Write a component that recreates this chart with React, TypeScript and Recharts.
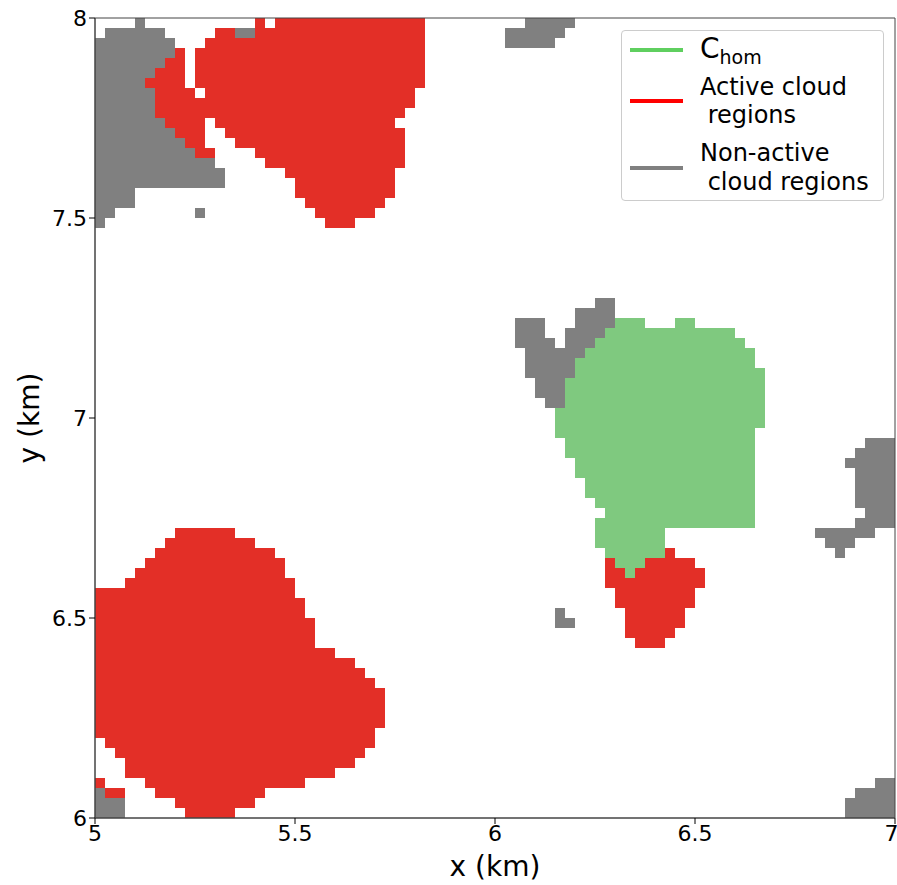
import {
  ComposedChart,
  ReferenceArea,
  XAxis,
  YAxis,
} from "recharts";

const GREEN = "#7fc97f";
const RED = "#e32f27";
const GREY = "#808080";
const FONT = "DejaVu Sans, sans-serif";

// model grid spacing in km (one pixel of the original field)
const GRID = 0.025;

const X_TICKS = [5, 5.5, 6, 6.5, 7];
const Y_TICKS = [6, 6.5, 7, 7.5, 8];

// each run: [top of grid row (km), x from (km), x to (km)]
type Run = [number, number, number];

const NON_ACTIVE: Run[] = [
  // top-left patch
  [8.0, 5.1, 5.125],
  [7.975, 5.025, 5.175],
  [7.975, 5.35, 5.4],
  [7.95, 5.0, 5.2],
  [7.925, 5.0, 5.2],
  [7.9, 5.0, 5.175],
  [7.875, 5.0, 5.15],
  [7.85, 5.0, 5.125],
  [7.825, 5.0, 5.15],
  [7.8, 5.0, 5.15],
  [7.775, 5.0, 5.15],
  [7.75, 5.0, 5.175],
  [7.725, 5.0, 5.2],
  [7.7, 5.0, 5.225],
  [7.675, 5.0, 5.25],
  [7.65, 5.0, 5.3],
  [7.625, 5.0, 5.325],
  [7.6, 5.0, 5.325],
  [7.575, 5.0, 5.1],
  [7.55, 5.0, 5.1],
  [7.525, 5.0, 5.05],
  [7.525, 5.25, 5.275],
  [7.5, 5.0, 5.025],
  // top, near x = 6.1
  [8.0, 6.075, 6.2],
  [7.975, 6.025, 6.175],
  [7.95, 6.025, 6.15],
  // next to the homogenised cloud
  [7.3, 6.25, 6.3],
  [7.275, 6.2, 6.3],
  [7.25, 6.05, 6.125],
  [7.25, 6.2, 6.3],
  [7.225, 6.05, 6.125],
  [7.225, 6.175, 6.275],
  [7.2, 6.05, 6.15],
  [7.2, 6.175, 6.25],
  [7.175, 6.075, 6.225],
  [7.15, 6.075, 6.2],
  [7.125, 6.075, 6.2],
  [7.1, 6.1, 6.175],
  [7.075, 6.1, 6.175],
  [7.05, 6.125, 6.175],
  [6.525, 6.15, 6.175],
  [6.5, 6.15, 6.2],
  // right edge
  [6.95, 6.925, 7.0],
  [6.925, 6.9, 7.0],
  [6.9, 6.875, 7.0],
  [6.875, 6.9, 7.0],
  [6.85, 6.9, 7.0],
  [6.825, 6.9, 7.0],
  [6.8, 6.9, 7.0],
  [6.775, 6.925, 7.0],
  [6.75, 6.9, 7.0],
  [6.725, 6.8, 6.95],
  [6.7, 6.825, 6.9],
  [6.675, 6.85, 6.875],
  // bottom corners
  [6.1, 6.95, 7.0],
  [6.075, 6.9, 7.0],
  [6.05, 6.875, 7.0],
  [6.025, 6.875, 7.0],
  [6.075, 5.0, 5.025],
  [6.05, 5.0, 5.075],
  [6.025, 5.0, 5.075],
];

const ACTIVE: Run[] = [
  // top cloud
  [8.0, 5.4, 5.425],
  [8.0, 5.45, 5.825],
  [7.975, 5.3, 5.35],
  [7.975, 5.4, 5.825],
  [7.95, 5.275, 5.825],
  [7.925, 5.2, 5.225],
  [7.925, 5.25, 5.825],
  [7.9, 5.175, 5.225],
  [7.9, 5.25, 5.825],
  [7.875, 5.15, 5.225],
  [7.875, 5.25, 5.825],
  [7.85, 5.125, 5.225],
  [7.85, 5.25, 5.825],
  [7.825, 5.15, 5.25],
  [7.825, 5.275, 5.8],
  [7.8, 5.15, 5.8],
  [7.775, 5.15, 5.775],
  [7.75, 5.175, 5.275],
  [7.75, 5.3, 5.75],
  [7.725, 5.2, 5.275],
  [7.725, 5.325, 5.775],
  [7.7, 5.225, 5.275],
  [7.7, 5.35, 5.775],
  [7.675, 5.25, 5.3],
  [7.675, 5.4, 5.775],
  [7.65, 5.425, 5.775],
  [7.625, 5.475, 5.75],
  [7.6, 5.5, 5.75],
  [7.575, 5.5, 5.75],
  [7.55, 5.525, 5.725],
  [7.525, 5.55, 5.7],
  [7.5, 5.575, 5.65],
  // below the homogenised cloud
  [6.675, 6.425, 6.45],
  [6.65, 6.275, 6.3],
  [6.65, 6.375, 6.5],
  [6.625, 6.275, 6.325],
  [6.625, 6.35, 6.525],
  [6.6, 6.275, 6.525],
  [6.575, 6.3, 6.5],
  [6.55, 6.3, 6.5],
  [6.525, 6.325, 6.475],
  [6.5, 6.325, 6.475],
  [6.475, 6.325, 6.45],
  [6.45, 6.35, 6.425],
  // bottom-left cloud
  [6.725, 5.2, 5.35],
  [6.7, 5.175, 5.4],
  [6.675, 5.15, 5.45],
  [6.65, 5.125, 5.475],
  [6.625, 5.1, 5.475],
  [6.6, 5.075, 5.5],
  [6.575, 5.0, 5.5],
  [6.55, 5.0, 5.525],
  [6.525, 5.0, 5.525],
  [6.5, 5.0, 5.55],
  [6.475, 5.0, 5.55],
  [6.45, 5.0, 5.55],
  [6.425, 5.0, 5.6],
  [6.4, 5.0, 5.65],
  [6.375, 5.0, 5.675],
  [6.35, 5.0, 5.7],
  [6.325, 5.0, 5.725],
  [6.3, 5.0, 5.725],
  [6.275, 5.0, 5.725],
  [6.25, 5.0, 5.725],
  [6.225, 5.0, 5.7],
  [6.2, 5.025, 5.7],
  [6.175, 5.05, 5.675],
  [6.15, 5.075, 5.65],
  [6.125, 5.075, 5.6],
  [6.1, 5.0, 5.025],
  [6.1, 5.125, 5.525],
  [6.075, 5.025, 5.075],
  [6.075, 5.15, 5.425],
  [6.05, 5.2, 5.4],
  [6.025, 5.225, 5.35],
];

const C_HOM: Run[] = [
  [7.25, 6.3, 6.375],
  [7.25, 6.45, 6.5],
  [7.225, 6.275, 6.6],
  [7.2, 6.25, 6.625],
  [7.175, 6.225, 6.65],
  [7.15, 6.2, 6.65],
  [7.125, 6.2, 6.675],
  [7.1, 6.175, 6.675],
  [7.075, 6.175, 6.675],
  [7.05, 6.175, 6.675],
  [7.025, 6.15, 6.675],
  [7.0, 6.15, 6.675],
  [6.975, 6.15, 6.65],
  [6.95, 6.175, 6.65],
  [6.925, 6.175, 6.65],
  [6.9, 6.2, 6.65],
  [6.875, 6.2, 6.65],
  [6.85, 6.225, 6.65],
  [6.825, 6.225, 6.65],
  [6.8, 6.25, 6.65],
  [6.775, 6.275, 6.65],
  [6.75, 6.25, 6.65],
  [6.725, 6.25, 6.425],
  [6.7, 6.25, 6.425],
  [6.675, 6.275, 6.425],
  [6.65, 6.3, 6.375],
  [6.625, 6.325, 6.35],
];

const LEGEND_COLORS = {
  hom: "#5fcf5f",
  active: "#ff0000",
  nonActive: "#808080",
};

function runs(data: Run[], color: string, prefix: string) {
  return data.map(([top, from, to], i) => (
    <ReferenceArea
      key={`${prefix}${i}`}
      x1={from}
      x2={to}
      y1={top - GRID}
      y2={top}
      fill={color}
      fillOpacity={1}
      stroke="none"
      ifOverflow="hidden"
    />
  ));
}

function XLabel(props: any) {
  const { x, y, width, height } = props.viewBox;
  return (
    <text x={x + width / 2} y={y + height - 9} textAnchor="middle" fontSize={28} fontFamily={FONT} fill="#000">
      x (km)
    </text>
  );
}

function YLabel(props: any) {
  const { x, y, height } = props.viewBox;
  const cx = x + 39;
  const cy = y + height / 2;
  return (
    <text
      x={cx}
      y={cy}
      transform={`rotate(-90, ${cx}, ${cy})`}
      textAnchor="middle"
      fontSize={28}
      fontFamily={FONT}
      fill="#000"
    >
      y (km)
    </text>
  );
}

function LegendBox() {
  const line = (color: string) => (
    <div style={{ width: 53, height: 4, background: color, marginRight: 17, flexShrink: 0 }} />
  );
  return (
    <div
      style={{
        position: "absolute",
        left: 621,
        top: 30,
        width: 263,
        height: 171,
        border: "1px solid #cccccc",
        borderRadius: 4,
        background: "rgba(255,255,255,0.85)",
        fontFamily: FONT,
        fontSize: 24,
        color: "#000",
        boxSizing: "border-box",
      }}
    >
      <div style={{ position: "absolute", left: 8, top: 4, display: "flex", alignItems: "center", height: 30 }}>
        {line(LEGEND_COLORS.hom)}
        <span style={{ fontSize: 28, lineHeight: "30px" }}>
          C<span style={{ fontSize: 19, position: "relative", top: 6 }}>hom</span>
        </span>
      </div>
      <div style={{ position: "absolute", left: 8, top: 42, display: "flex", alignItems: "center" }}>
        {line(LEGEND_COLORS.active)}
        <div style={{ lineHeight: "28px", whiteSpace: "pre" }}>
          {"Active cloud\n regions"}
        </div>
      </div>
      <div style={{ position: "absolute", left: 8, top: 108, display: "flex", alignItems: "center" }}>
        {line(LEGEND_COLORS.nonActive)}
        <div style={{ lineHeight: "29px", whiteSpace: "pre" }}>
          {"Non-active\n cloud regions"}
        </div>
      </div>
    </div>
  );
}

export default function App() {
  return (
    <div style={{ position: "absolute", left: 0, top: 0, width: 897, height: 885, background: "#fff", fontFamily: FONT }}>
      <ComposedChart width={897} height={885} data={[]} margin={{ top: 18, right: 2, bottom: 0, left: 0 }}>
        <XAxis
          type="number"
          dataKey="x"
          domain={[5, 7]}
          ticks={X_TICKS}
          allowDataOverflow
          height={67}
          tick={{ fontSize: 22, fill: "#000", fontFamily: FONT }}
          tickLine={{ stroke: "#000" }}
          axisLine={{ stroke: "#444" }}
          tickSize={6}
          tickMargin={1}
          label={XLabel}
        />
        <YAxis
          type="number"
          dataKey="y"
          domain={[6, 8]}
          ticks={Y_TICKS}
          allowDataOverflow
          width={95}
          tick={{ fontSize: 22, fill: "#000", fontFamily: FONT }}
          tickLine={{ stroke: "#000" }}
          axisLine={{ stroke: "#444" }}
          tickSize={6}
          tickMargin={2}
          label={YLabel}
        />
        {runs(NON_ACTIVE, GREY, "n")}
        {runs(ACTIVE, RED, "a")}
        {runs(C_HOM, GREEN, "h")}
        <ReferenceArea x1={5} x2={7} y1={6} y2={8} fill="none" stroke="#444" strokeWidth={1} ifOverflow="visible" />
      </ComposedChart>
      <LegendBox />
    </div>
  );
}
